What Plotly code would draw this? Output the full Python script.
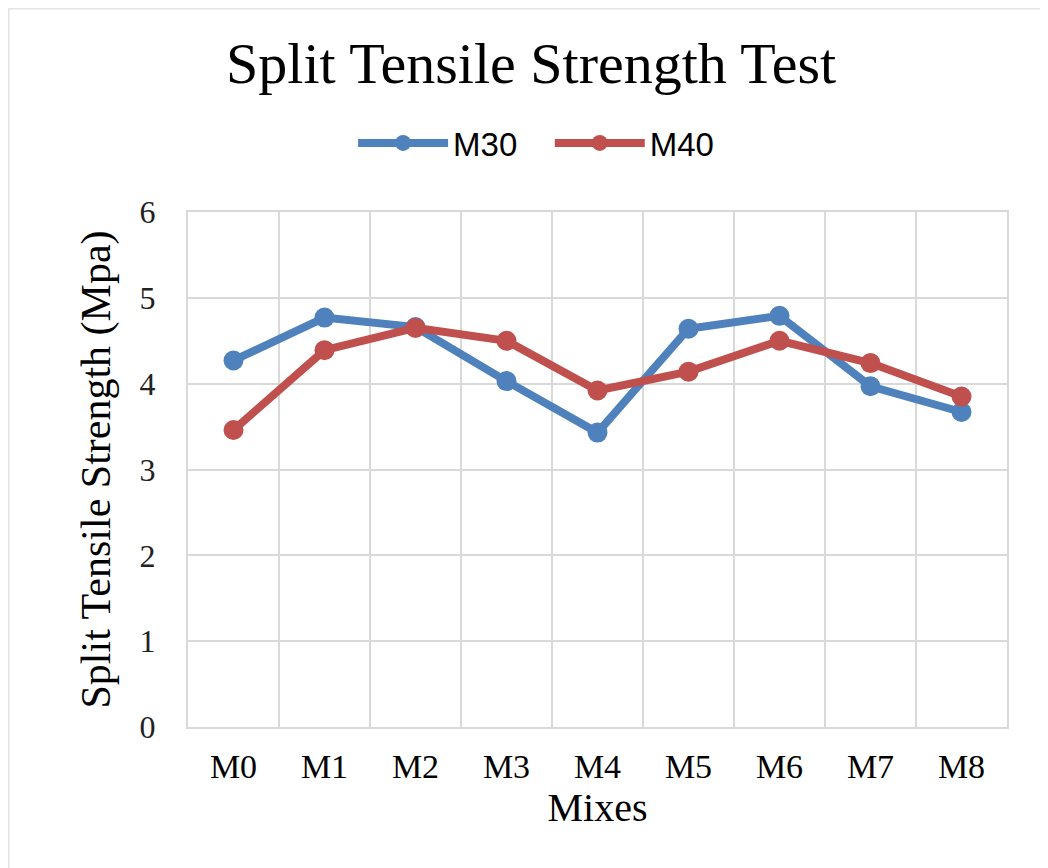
import plotly.graph_objects as go

mixes = ["M0", "M1", "M2", "M3", "M4", "M5", "M6", "M7", "M8"]
m30 = [4.27, 4.77, 4.66, 4.03, 3.43, 4.64, 4.79, 3.97, 3.67]
m40 = [3.46, 4.39, 4.65, 4.50, 3.92, 4.14, 4.50, 4.24, 3.85]

blue = "#4F81BD"
red = "#C0504D"
serif = "Liberation Serif, Times New Roman, serif"
pad = "\u00a0\u00a0\u00a0"

fig = go.Figure()
fig.add_trace(go.Scatter(x=mixes, y=m30, name="M30" + pad, mode="lines+markers",
                         line=dict(color=blue, width=8), marker=dict(size=20, color=blue)))
fig.add_trace(go.Scatter(x=mixes, y=m40, name="M40", mode="lines+markers",
                         line=dict(color=red, width=8), marker=dict(size=20, color=red)))

fig.update_layout(
    width=1040, height=860,
    margin=dict(l=180, r=41, t=204, b=141, autoexpand=False),
    paper_bgcolor="white", plot_bgcolor="white",
    title=dict(text="Split Tensile Strength Test", x=0.503, xanchor="center", y=0.936, yanchor="middle",
               font=dict(family=serif, size=58, color="black")),
    legend=dict(orientation="h", x=0.425, xanchor="center", y=1.134, yanchor="middle",
                font=dict(family="Liberation Sans, Arial, sans-serif", size=33, color="black"),
                itemwidth=90, bgcolor="rgba(0,0,0,0)"),
    showlegend=True,
)
fig.update_xaxes(type="category", range=[-0.5, 8.5], tickson="boundaries", showgrid=True,
                 gridcolor="#d9d9d9", gridwidth=2, tickangle=0,
                 showline=True, linecolor="#d9d9d9", linewidth=2, mirror=True, ticks="",
                 tickfont=dict(family=serif, size=34, color="black"), ticklabelstandoff=8,
                 title=dict(text="Mixes", font=dict(family=serif, size=40, color="black"), standoff=6))
fig.update_yaxes(range=[0, 6], dtick=1, showgrid=True, gridcolor="#d9d9d9", gridwidth=2,
                 showline=True, linecolor="#d9d9d9", linewidth=2, mirror=True, ticks="", zeroline=False,
                 tickfont=dict(family=serif, size=32, color="#222"), ticklabelstandoff=24,
                 title=dict(text="Split Tensile Strength (Mpa)", font=dict(family=serif, size=42, color="black"),
                            standoff=16))

fig.add_shape(type="rect", xref="paper", yref="paper", x0=-180/819, x1=1.2, y0=-0.5, y1=1 + 204/515,
              line=dict(color="#e3e3e3", width=3), layer="below")

fig.write_html("out.html")
